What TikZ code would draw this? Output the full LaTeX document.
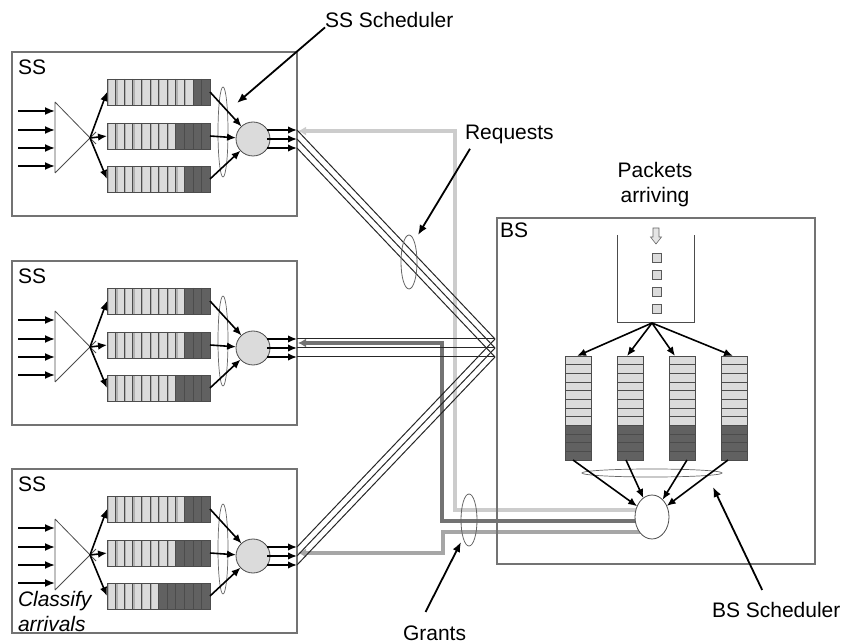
\documentclass[tikz,border=0pt]{standalone}
\usepackage{fontspec}
\setmainfont{Liberation Sans}
\usetikzlibrary{arrows.meta,shapes.geometric}

\begin{document}
\begin{tikzpicture}[x=1pt, y=-1pt,
  every node/.style={font=\fontsize{21}{25}\selectfont, inner sep=0pt, outer sep=0pt},
  arr/.style={-{Latex[length=10pt,width=8pt]}, line width=1.8pt},
  sarr/.style={-{Latex[length=9pt,width=7.5pt]}, line width=1.6pt},
  boxline/.style={draw=black!55, line width=1.1pt},
  outl/.style={draw=black!70, line width=0.8pt},
  grant/.style={line width=3.2pt, -{Latex[length=8pt,width=9pt]}},
  wire/.style={black!85, line width=1pt}]
\useasboundingbox (0,0) rectangle (844,644);

% grants back to the SS
\coordinate (gl) at (648,510); \coordinate (gd) at (648,521); \coordinate (gm) at (648,532);
\coordinate (g1) at (298,131); \coordinate (g2) at (298,343); \coordinate (g3) at (298,553);
\draw[grant, black!20] (gl) -| (455,131) -- (g1);
\draw[grant, black!55] (gd) -| (442,343) -- (g2);
\draw[grant, black!35] (gm) -| (443,553) -- (g3);

\foreach \oo in {1,2,3} \coordinate (bs\oo) at (495,330+9*\oo);

% subscriber stations
\foreach \kk/\ty/\da/\db/\dc in {1/52/2/4/3, 2/261/3/3/4, 3/469/3/4/6} {
  \node[boxline, anchor=north west, minimum width=285pt, minimum height=164pt] (ss\kk) at (12,\ty) {};
  \node[anchor=north west] (sslab\kk) at (18,\ty+8) {SS};
  \coordinate (tri\kk) at (55,\ty+86); \coordinate (cls\kk) at (90,\ty+86);
  \draw[outl] (55,\ty+50) -- (96,\ty+92) (55,\ty+121) -- (96,\ty+80) (55,\ty+50) -- (55,\ty+121);
  \foreach \ii/\yy in {1/59,2/78,3/96,4/114} {
    \coordinate (in\kk\ii) at (18,\ty+\yy);
    \draw[arr] (in\kk\ii) -- (in\kk\ii -| tri\kk);
  }
  \foreach \rr/\yy/\dk in {1/40/\da, 2/84/\db, 3/127/\dc} {
    \coordinate (q\kk\rr w) at (107,\ty+\yy); \coordinate (q\kk\rr e) at (210,\ty+\yy);
    \fill[black!14] (107,\ty+\yy-13) rectangle (210,\ty+\yy+13);
    \fill[black!62] ({210-8.583*\dk},\ty+\yy-13) rectangle (210,\ty+\yy+13);
    \pgfmathtruncatemacro\nl{11-\dk}
    \foreach \cc in {0,...,\nl} \fill[black!30] ({107+8.583*\cc},\ty+\yy-13) rectangle +(2,26);
    \foreach \cc in {1,...,11} \draw[black!70, line width=0.6pt] ({107+8.583*\cc},\ty+\yy-13) -- +(0,26);
    \draw[outl] (107,\ty+\yy-13) rectangle (210,\ty+\yy+13);
    \draw[sarr] (cls\kk) -- (q\kk\rr w);
  }
  \draw[black!60, line width=0.7pt] (223,\ty+80) ellipse [x radius=5, y radius=45];
  \node[circle, draw=black!70, fill=black!14, line width=0.8pt, minimum size=34pt] (sch\kk) at (253,\ty+87) {};
  \foreach \rr in {1,2,3} \draw[sarr] (q\kk\rr e) -- (sch\kk);
  \foreach \oo in {1,2,3} {
    \coordinate (out\kk\oo) at (297,\ty+69+9*\oo);
    \draw[sarr] ([xshift=-3pt]out\kk\oo -| sch\kk.east) -- (out\kk\oo);
    \draw[wire] (out\kk\oo) -- (bs\oo);
  }
}
\draw[black!60, line width=0.8pt] (409,262) ellipse [x radius=8, y radius=27];
\draw[black!60, line width=0.8pt] (469,520) ellipse [x radius=8, y radius=26];

% base station
\node[boxline, anchor=north west, minimum width=318pt, minimum height=346pt] (bs) at (497,218) {};
\node[anchor=north west] (bslab) at (500,223) {BS};
\draw[outl] (617,235) -- (617,322) -- (694,322) -- (694,235);
\coordinate (fun) at (652,323);
\draw[black!60, fill=black!10, line width=0.6pt] (653,228) -- (659,228) -- (659,237) -- (661.5,237) -- (656,244) -- (650.5,237) -- (653,237) -- cycle;
\foreach \ii in {0,...,3} \draw[black!65, fill=black!14, line width=0.6pt] (652,253+17*\ii) rectangle +(9,9);
\foreach \ii/\qx/\tx/\bx in {1/578/577/573, 2/630/627/626, 3/682/675/687, 4/734/733/728} {
  \fill[black!14] (\qx-13,356) rectangle (\qx+13,425.3);
  \fill[black!62] (\qx-13,425.3) rectangle (\qx+13,460);
  \foreach \cc in {1,...,11} \draw[black!70, line width=0.6pt] (\qx-13,356+8.667*\cc) -- +(26,0);
  \draw[outl] (\qx-13,356) rectangle (\qx+13,460);
  \coordinate (bqt\ii) at (\tx,356); \coordinate (bqb\ii) at (\bx,460);
  \draw[sarr] (fun) -- (bqt\ii);
}
\draw[black!60, line width=0.7pt] (652,473) ellipse [x radius=70, y radius=4];
\node[ellipse, draw=black!70, fill=white, line width=0.8pt, minimum width=34pt, minimum height=44pt] (bsch) at (652,517) {};
\foreach \ii in {1,...,4} \draw[sarr] (bqb\ii) -- (bsch);

% labels
\node[anchor=north west] (sslab) at (325,12) {SS Scheduler};
\coordinate (ssp) at (237,103);
\draw[arr] (sslab.south west) -- (ssp);
\node[anchor=north west] (reqlab) at (465,125) {Requests};
\coordinate (reqp) at (418,235);
\draw[arr] ([xshift=5pt,yshift=-5pt]reqlab.south west) -- (reqp);
\node[align=center] (pktlab) at (655,185) {Packets\\arriving};
\node[anchor=north west] (bsslab) at (712,602) {BS Scheduler};
\coordinate (bsp) at (713,487);
\draw[arr] ([xshift=-14pt,yshift=12pt]bsslab.north) -- (bsp);
\node[anchor=north west] (grlab) at (403,626) {Grants};
\coordinate (grp) at (461,542);
\draw[arr] ([xshift=-9pt,yshift=14pt]grlab.north) -- (grp);
\node[anchor=north west, align=left, font=\fontsize{21}{25}\selectfont\itshape] (clslab) at (18,591) {Classify\\arrivals};
\end{tikzpicture}
\end{document}
